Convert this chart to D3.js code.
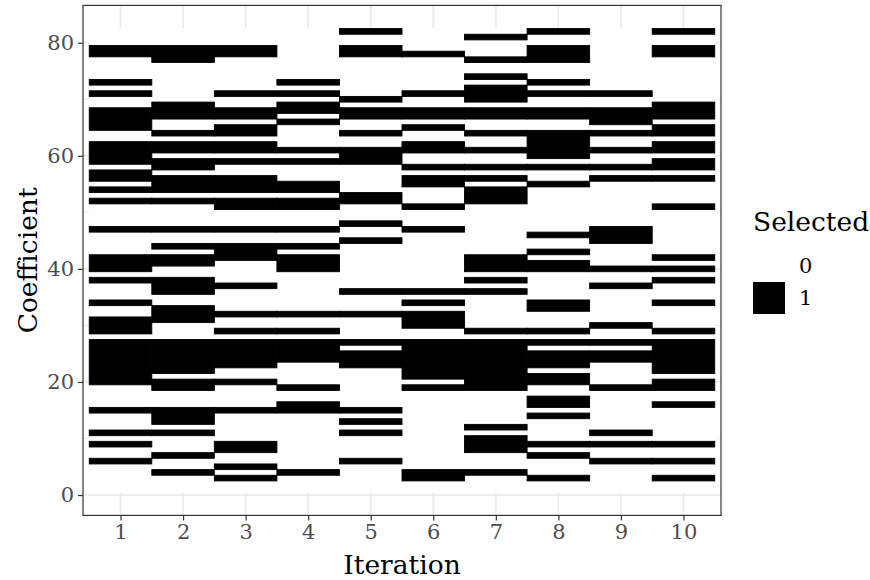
<!DOCTYPE html>
<html><head><meta charset="utf-8">
<script src="https://cdn.jsdelivr.net/npm/d3@7"></script>
<style>
body{margin:0;background:#fff}
svg{display:block}
text{font-family:'DejaVu Serif',serif}
</style>
</head><body>
<svg id="chart" width="870" height="580"></svg>
<script>
// ---- data ----
const iterations = [1, 2, 3, 4, 5, 6, 7, 8, 9, 10];
const coefficients = d3.range(1, 83); // coefficients 1..82
const yTickValues = [0, 20, 40, 60, 80];
const yMinorValues = [10, 30, 50, 70];
const legendLevels = ["0", "1"];
const legendFills = ["#FFFFFF", "#000000"];

// selected coefficients (Selected = 1) per iteration
const selectedIter1 = [78,79,73,71,65,66,67,68,59,60,61,62,56,57,54,52,47,40,41,42,38,34,29,30,31,20,21,22,23,24,25,26,27,15,11,9,6];
const selectedIter2 = [77,78,79,67,68,69,64,61,62,58,59,54,55,56,52,47,44,41,42,36,37,38,31,32,33,22,23,24,25,26,27,19,20,13,14,15,11,7,4];
const selectedIter3 = [78,79,71,67,68,64,65,61,62,59,54,55,56,51,52,47,42,43,44,37,32,29,23,24,25,26,27,20,15,8,9,5,3];
const selectedIter4 = [73,71,68,69,66,61,59,54,55,51,52,47,44,40,41,42,32,29,24,25,26,27,19,15,16,4];
const selectedIter5 = [82,78,79,70,67,68,64,59,60,61,52,53,48,45,36,32,27,23,24,25,15,13,11,6];
const selectedIter6 = [78,71,67,68,65,61,62,58,55,56,51,47,36,34,30,31,32,21,22,23,24,25,26,27,19,3,4];
const selectedIter7 = [81,77,74,70,71,72,67,68,64,61,58,56,52,53,54,40,41,42,38,36,29,19,20,21,22,23,24,25,26,27,12,8,9,10,4];
const selectedIter8 = [82,77,78,79,73,71,67,68,60,61,62,63,64,58,55,46,43,40,41,33,34,29,27,23,24,25,20,21,16,17,14,9,7,3];
const selectedIter9 = [71,66,67,68,64,61,58,56,45,46,47,40,37,30,27,24,25,19,11,9,6];
const selectedIter10 = [82,78,79,67,68,69,64,65,61,62,58,59,56,51,42,40,38,34,29,22,23,24,25,26,27,19,20,16,9,6,3];
const selectedByIteration = [selectedIter1, selectedIter2, selectedIter3, selectedIter4, selectedIter5,
  selectedIter6, selectedIter7, selectedIter8, selectedIter9, selectedIter10];

// runs of consecutive selected coefficients per iteration (drawn as one tile block each)
const runs = [];
iterations.forEach((it, i) => {
  const s = [...selectedByIteration[i]].sort((a, b) => a - b);
  let start = null, prev = null;
  s.forEach(c => {
    if (start === null) { start = c; prev = c; return; }
    if (c === prev + 1) { prev = c; return; }
    runs.push({iteration: it, from: start, to: prev});
    start = c; prev = c;
  });
  if (start !== null) runs.push({iteration: it, from: start, to: prev});
});

// ---- layout ----
const svg = d3.select("#chart");
const panel = {left: 83, right: 721, top: 5.4, bottom: 515.4};
const x = d3.scaleLinear().domain([0.4, 10.6]).range([panel.left, panel.right]);
const y = d3.scaleLinear().domain([-3.6, 86.6]).range([panel.bottom, panel.top]);
const fill = d3.scaleOrdinal().domain(legendLevels).range(legendFills);

// panel background
svg.append("rect").attr("x", panel.left).attr("y", panel.top)
  .attr("width", panel.right - panel.left).attr("height", panel.bottom - panel.top).attr("fill", "#fff");

// grid
const grid = svg.append("g");
grid.selectAll(".ymin").data(yMinorValues).join("line")
  .attr("x1", panel.left).attr("x2", panel.right).attr("y1", d => y(d)).attr("y2", d => y(d))
  .attr("stroke", "#EBEBEB").attr("stroke-width", 0.9);
grid.selectAll(".ymaj").data(yTickValues).join("line")
  .attr("x1", panel.left).attr("x2", panel.right).attr("y1", d => y(d)).attr("y2", d => y(d))
  .attr("stroke", "#EBEBEB").attr("stroke-width", 1.8);
grid.selectAll(".xmaj").data(iterations).join("line")
  .attr("y1", panel.top).attr("y2", panel.bottom).attr("x1", d => x(d)).attr("x2", d => x(d))
  .attr("stroke", "#EBEBEB").attr("stroke-width", 1.8);

// unselected tiles (white) cover the whole coefficient range of every iteration
svg.append("g").selectAll("rect").data(iterations).join("rect")
  .attr("x", d => x(d - 0.5))
  .attr("width", d => x(d + 0.5) - x(d - 0.5))
  .attr("y", y(d3.max(coefficients) + 0.5))
  .attr("height", y(d3.min(coefficients) - 0.5) - y(d3.max(coefficients) + 0.5))
  .attr("fill", fill("0"))
  .attr("stroke", fill("0"))
  .attr("stroke-width", 0.8);

// selected tiles (black)
svg.append("g").selectAll("rect").data(runs).join("rect")
  .attr("x", d => x(d.iteration - 0.5))
  .attr("width", d => x(d.iteration + 0.5) - x(d.iteration - 0.5))
  .attr("y", d => y(d.to + 0.5))
  .attr("height", d => y(d.from - 0.5) - y(d.to + 0.5))
  .attr("fill", fill("1"))
  .attr("stroke", fill("1"))
  .attr("stroke-width", 0.9);

// panel border
svg.append("rect").attr("x", panel.left).attr("y", panel.top)
  .attr("width", panel.right - panel.left).attr("height", panel.bottom - panel.top)
  .attr("fill", "none").attr("stroke", "#333333").attr("stroke-width", 1.2);

// axes
const yAxis = svg.append("g").attr("transform", `translate(${panel.left},0)`)
  .call(d3.axisLeft(y).tickValues(yTickValues).tickSize(5).tickPadding(4));
const xAxis = svg.append("g").attr("transform", `translate(0,${panel.bottom})`)
  .call(d3.axisBottom(x).tickValues(iterations).tickSize(5).tickPadding(4));
[yAxis, xAxis].forEach(a => {
  a.select(".domain").remove();
  a.selectAll(".tick line").attr("stroke", "#333333").attr("stroke-width", 1.2);
  a.selectAll(".tick text").attr("fill", "#4D4D4D").style("font-size", "21px").style("font-family", "'DejaVu Serif', serif");
});

// titles
svg.append("text").attr("x", (panel.left + panel.right) / 2).attr("y", 574)
  .attr("text-anchor", "middle").style("font-size", "26.5px").attr("fill", "#000").text("Iteration");
svg.append("text").attr("transform", `translate(37,${(panel.top + panel.bottom) / 2}) rotate(-90)`)
  .attr("text-anchor", "middle").style("font-size", "26.5px").attr("fill", "#000").text("Coefficient");

// legend
const lg = svg.append("g").attr("transform", "translate(753,0)");
lg.append("text").attr("x", 0).attr("y", 231).style("font-size", "26.5px").attr("fill", "#000").text("Selected");
legendLevels.forEach((lv, i) => {
  lg.append("rect").attr("x", 0).attr("y", 250 + i * 32).attr("width", 32).attr("height", 32).attr("fill", fill(lv));
  lg.append("text").attr("x", 46).attr("y", 266 + i * 32).attr("dominant-baseline", "central")
    .style("font-size", "21px").attr("fill", "#000").text(lv);
});
</script>
</body></html>
